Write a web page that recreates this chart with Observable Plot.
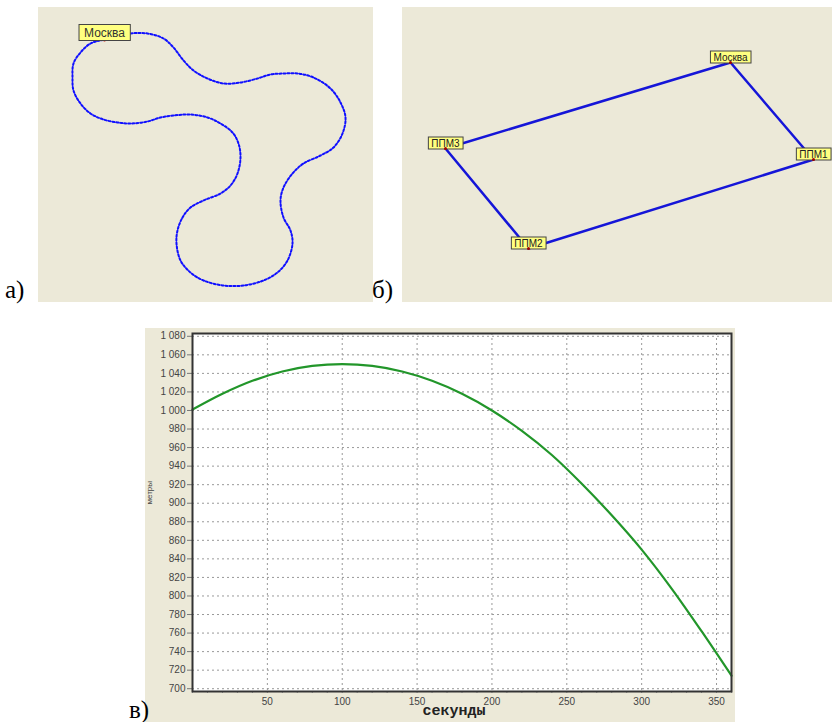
<!DOCTYPE html>
<html><head><meta charset="utf-8">
<script src="https://cdn.jsdelivr.net/npm/d3@7"></script>
<script src="https://cdn.jsdelivr.net/npm/@observablehq/plot@0.6"></script>
<style>
body{margin:0;background:#fff;width:832px;height:722px;position:relative;overflow:hidden;font-family:"Liberation Serif",serif}
.panel{position:absolute}
.tag{position:absolute;font-family:"Liberation Serif",serif;font-size:25px;line-height:1;color:#000}
</style></head>
<body>
<div id="pa" class="panel" style="left:38px;top:7px"></div>
<div id="pb" class="panel" style="left:402px;top:7px"></div>
<div id="pc" class="panel" style="left:145px;top:328px"></div>
<div class="tag" style="left:5px;top:277px">а)</div>
<div class="tag" style="left:372px;top:277px">б)</div>
<div class="tag" style="left:129px;top:697px">в)</div>
<script>
// ---- panel а: closed route (map units)
const routeAX = [66,92,109,125,135,145,155,169,185,202,219,232,245,259,275,292,302,307,304,295,282,265,254,245,242,245,252,254,249,239,225,205,185,165,152,142,138,139,144,152,165,182,192,199,202,200,194,182,169,152,135,122,109,92,79,65,52,42,35,34,35,42,52];
const routeAY = [32,26,26,31,40,53,63,71,76,75,71,67,66,66,70,81,95,110,126,140,148,156,166,180,193,210,223,236,253,265,273,278,278,273,265,253,236,223,210,200,193,186,178,166,150,136,125,116,110,107,108,110,114,116,115,112,106,96,83,70,56,45,36];
const startA = {name:"Москва", x:66, y:32};

// ---- panel б: waypoints route (map units)
const wpNames = ["Москва","ППМ1","ППМ2","ППМ3"];
const wpX = [328,411,126,43];
const wpY = [55,152,241,141];

// ---- panel в: altitude vs time
const tSec = [0,20,40,60,80,100,120,140,160,180,200,220,240,260,280,300,320,340,360];
const hMeters = [1001,1018,1032,1042,1048,1050,1048,1042,1032,1018,1000,978,952,921,887,850,808,762,714];
const xTicks = [50,100,150,200,250,300,350];
const yTicks = [700,720,740,760,780,800,820,840,860,880,900,920,940,960,980,1000,1020,1040,1060,1080];
const xMinor = d3.range(0,361,10);

const BG = "#ECE9D8";

function boxLabels(svg, padX, padY){
  svg.querySelectorAll("g.lbl text").forEach(t=>{
    const b = t.getBBox();
    const r = document.createElementNS("http://www.w3.org/2000/svg","rect");
    r.setAttribute("x", b.x - padX); r.setAttribute("y", b.y - padY);
    r.setAttribute("width", b.width + 2*padX); r.setAttribute("height", b.height + 2*padY);
    r.setAttribute("fill", "#FFFF80"); r.setAttribute("stroke", "#444"); r.setAttribute("stroke-width", "1");
    const tr = t.getAttribute("transform"); if (tr) r.setAttribute("transform", tr);
    t.parentNode.insertBefore(r, t);
  });
}

// panel а
const ptsA = routeAX.map((x,i)=>({x, y:routeAY[i]}));
const svgA = Plot.plot({
  width:335, height:295, margin:0,
  x:{domain:[0,335], axis:null}, y:{domain:[295,0], axis:null},
  style:{background:BG},
  marks:[
    Plot.line(ptsA,{x:"x",y:"y",curve:"catmull-rom-closed",stroke:"#1010ff",strokeWidth:2,strokeDasharray:"2,2"}),
    Plot.dot([startA],{x:"x",y:"y",r:2,fill:"#d00000",stroke:"none"}),
    Plot.text([startA],{x:"x",y:"y",text:"name",className:"lbl",lineAnchor:"bottom",dy:-3,fontSize:12,fill:"#333",fontFamily:"Liberation Sans"})
  ]
});
document.getElementById("pa").appendChild(svgA);
boxLabels(svgA,5,1);

// panel б
const wps = wpNames.map((n,i)=>({name:n, x:wpX[i], y:wpY[i]}));
const svgB = Plot.plot({
  width:430, height:295, margin:0,
  x:{domain:[0,430], axis:null}, y:{domain:[295,0], axis:null},
  style:{background:BG},
  marks:[
    Plot.line(wps,{x:"x",y:"y",curve:"linear-closed",stroke:"#1515d8",strokeWidth:2.5}),
    Plot.text(wps,{x:"x",y:"y",text:"name",className:"lbl",lineAnchor:"bottom",dy:-2,fontSize:10,fill:"#222",fontFamily:"Liberation Sans"}),
    Plot.dot(wps,{x:"x",y:"y",r:1.5,fill:"#a00000",stroke:"none"})
  ]
});
document.getElementById("pb").appendChild(svgB);
boxLabels(svgB,3,0.5);

// panel в
const alt = tSec.map((t,i)=>({t, h:hMeters[i]}));
const fmtY = d => d >= 1000 ? `${Math.floor(d/1000)} ${String(d%1000).padStart(3,"0")}` : String(d);
const svgC = Plot.plot({
  width:590, height:394, marginLeft:47, marginTop:5, marginRight:4, marginBottom:31,
  x:{domain:[0,360]}, y:{domain:[697,1083]},
  style:{background:BG, fontFamily:"Liberation Sans", fontSize:"10px", color:"#555"},
  marks:[
    Plot.frame({fill:"white", stroke:"none"}),
    Plot.gridX(xTicks,{stroke:"#999",strokeOpacity:1,strokeDasharray:"2,3"}),
    Plot.gridY(yTicks,{stroke:"#999",strokeOpacity:1,strokeDasharray:"2,3"}),
    Plot.axisY(yTicks,{tickFormat:fmtY,tickSize:5,tickPadding:2,label:null,stroke:"#777",fill:"#444"}),
    Plot.axisX(xMinor,{tickSize:2,tickFormat:()=>"",label:null,stroke:"#999"}),
    Plot.axisX(xTicks,{tickSize:0,tickPadding:6,label:null,fill:"#444"}),
    Plot.line(alt,{x:"t",y:"h",curve:"monotone-x",stroke:"#22962a",strokeWidth:2.2}),
    Plot.frame({stroke:"#333",strokeWidth:2}),
    Plot.text(["метры"],{frameAnchor:"left",dx:-43,dy:-8,rotate:-90,fontSize:8,fill:"#444"}),
    Plot.text(["секунды"],{frameAnchor:"bottom",dx:-8,dy:23,fontSize:15,fontWeight:"bold",fill:"#222",fontFamily:"Liberation Mono"})
  ]
});
document.getElementById("pc").appendChild(svgC);
</script>
</body></html>
